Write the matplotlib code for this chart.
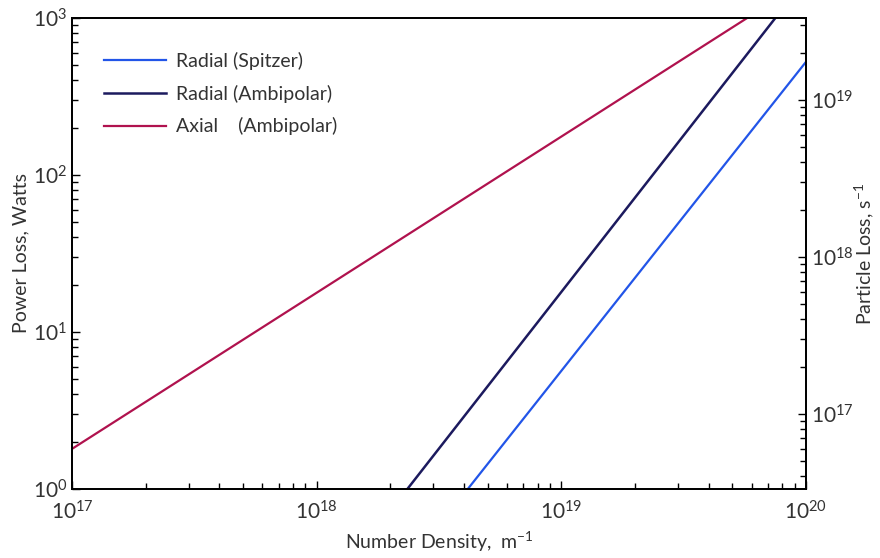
import math
import matplotlib
matplotlib.use("Agg")
import matplotlib.pyplot as plt
from matplotlib.ticker import FuncFormatter, LogLocator, NullFormatter

plt.rcParams['font.family'] = ['Lato', 'DejaVu Sans']

# End points (number density m^-1, power loss W)
spitzer_n = [4.15e18, 1.0e20]
spitzer_p = [1.0, 525.0]
ambi_n = [2.35e18, 7.5e19]
ambi_p = [1.0, 1000.0]
axial_n = [1.0e17, 5.75e19]
axial_p = [1.8, 1000.0]

labels = ["Radial (Spitzer)", "Radial (Ambipolar)", "Axial    (Ambipolar)"]
colors = ["#2255e8", "#1c1a5e", "#b0124e"]

# right axis: 10^19 particles/s lines up with ~300 W
right_lim = [10 ** 16.522, 10 ** 19.522]

fig = plt.figure(figsize=(8.8, 5.58), dpi=100)
ax = fig.add_axes([0.0818, 0.1237, 0.834, 0.844])

ax.plot(spitzer_n, spitzer_p, color=colors[0], lw=1.6, label=labels[0])
ax.plot(ambi_n, ambi_p, color=colors[1], lw=1.8, label=labels[1])
ax.plot(axial_n, axial_p, color=colors[2], lw=1.6, label=labels[2])

ax.set_xscale('log')
ax.set_yscale('log')
ax.set_xlim(1e17, 1e20)
ax.set_ylim(1, 1000)

fmt = FuncFormatter(lambda v, p: r'$\mathregular{10^{%d}}$' % round(math.log10(v)))
txtc = '#333333'
ax.xaxis.set_major_formatter(fmt)
ax.yaxis.set_major_formatter(fmt)
ax.xaxis.set_minor_locator(LogLocator(base=10, subs=range(2, 10)))
ax.yaxis.set_minor_locator(LogLocator(base=10, subs=range(2, 10)))
ax.xaxis.set_minor_formatter(NullFormatter())
ax.yaxis.set_minor_formatter(NullFormatter())
ax.tick_params(which='both', direction='in', right=False, top=False,
               labelsize=15, labelcolor=txtc)
ax.tick_params(which='major', length=6, width=1)
ax.tick_params(which='minor', length=4, width=1)
ax.tick_params(axis='x', pad=8)

ax.set_xlabel(r'Number Density,  m$^{\mathregular{-1}}$', fontsize=14, color=txtc, labelpad=4)
ax.set_ylabel('Power Loss, Watts', fontsize=14, color=txtc, labelpad=2)

ax2 = ax.twinx()
ax2.set_yscale('log')
ax2.set_ylim(*right_lim)
ax2.yaxis.set_major_formatter(fmt)
ax2.yaxis.set_minor_locator(LogLocator(base=10, subs=range(2, 10)))
ax2.yaxis.set_minor_formatter(NullFormatter())
ax2.tick_params(which='both', direction='in', labelsize=15, labelcolor=txtc)
ax2.tick_params(which='major', length=6, width=1)
ax2.tick_params(which='minor', length=4, width=1)
ax2.set_ylabel(r'Particle Loss, s$^{\mathregular{-1}}$', fontsize=14, color=txtc)
ax2.yaxis.set_label_coords(1.064, 0.5)

for a in [ax, ax2]:
    for s in a.spines.values():
        s.set_linewidth(1.3)

leg = ax.legend(loc='upper left', bbox_to_anchor=(0.02, 0.965), frameon=False,
                fontsize=14, handlelength=3.2, labelspacing=0.75, handletextpad=0.5)
for t in leg.get_texts():
    t.set_color(txtc)

fig.savefig('out.png', dpi=100)
